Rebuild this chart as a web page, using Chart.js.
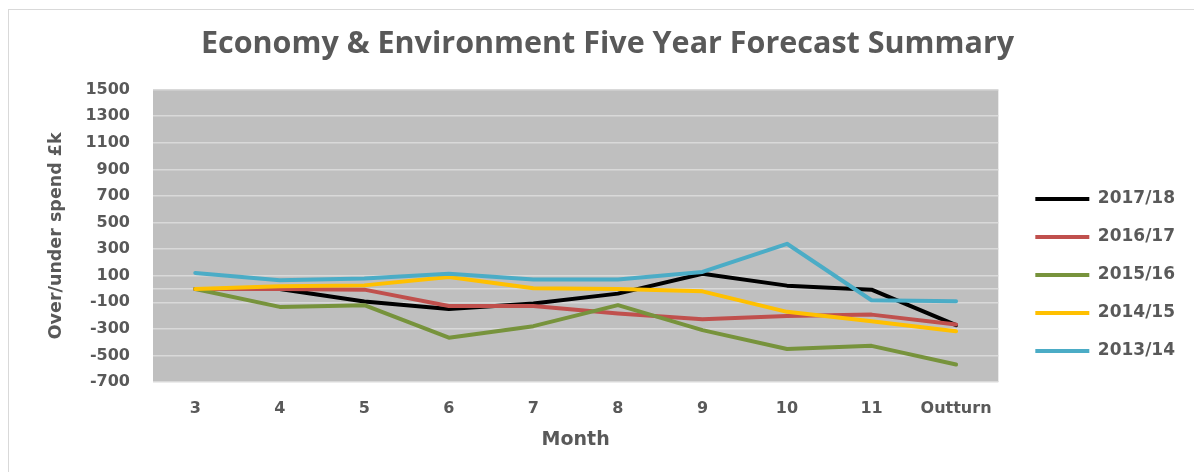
<!DOCTYPE html>
<html lang="en">

<head>
    <meta charset="UTF-8">
    <title>Economy &amp; Environment Five Year Forecast Summary</title>
    <script src="https://cdn.jsdelivr.net/npm/chart.js"></script>
    <style>
        html, body {
            margin: 0;
            padding: 0;
            background: #fff;
            overflow: hidden;
        }

        .frame {
            position: absolute;
            left: 8px;
            top: 9px;
            width: 1200px;
            height: 480px;
            border: 1px solid #d9d9d9;
            box-sizing: border-box;
        }

        .chart-container {
            position: absolute;
            left: 0;
            top: 0;
            width: 1194px;
            height: 472px;
        }
    </style>
</head>

<body>
    <div class="frame"></div>
    <div class="chart-container">
        <canvas id="forecastChart"></canvas>
    </div>

    <script>
        const months = ['3', '4', '5', '6', '7', '8', '9', '10', '11', 'Outturn'];

        // over/under spend per month, £k
        const fy1718 = [0, 0, -95, -150, -110, -35, 115, 25, -5, -272];
        const fy1617 = [0, 0, -5, -128, -128, -185, -228, -203, -193, -268];
        const fy1516 = [0, -135, -122, -367, -280, -122, -310, -452, -428, -568];
        const fy1415 = [0, 20, 27, 90, 5, 0, -18, -172, -243, -318];
        const fy1314 = [120, 65, 78, 115, 72, 72, 128, 340, -85, -92];

        const yMin = -700;
        const yMax = 1500;
        const yStep = 200;

        const textColor = '#595959';
        const fontFamily = 'DejaVu Sans';

        // grey plot background
        const plotBackground = {
            id: 'plotBackground',
            beforeDraw(chart) {
                const { ctx, chartArea } = chart;
                ctx.save();
                ctx.fillStyle = '#bfbfbf';
                ctx.fillRect(chartArea.left, chartArea.top, chartArea.width, chartArea.height);
                ctx.restore();
            }
        };

        // move the legend right and down, next to the lower half of the plot
        const legendOffset = {
            id: 'legendOffset',
            afterLayout(chart) {
                chart.legend.left += 16;
                chart.legend.right += 16;
                chart.legend.top += 39;
                chart.legend.bottom += 39;
            }
        };

        function series(label, data, color, order) {
            return {
                label: label,
                data: data,
                borderColor: color,
                backgroundColor: color,
                borderWidth: 4,
                borderCapStyle: 'round',
                borderJoinStyle: 'round',
                pointRadius: 0,
                pointHoverRadius: 0,
                tension: 0,
                order: order
            };
        }

        const ctx = document.getElementById('forecastChart').getContext('2d');

        new Chart(ctx, {
            type: 'line',
            data: {
                labels: months,
                datasets: [
                    series('2017/18', fy1718, '#000000', 4),
                    series('2016/17', fy1617, '#c0504d', 3),
                    series('2015/16', fy1516, '#77933c', 2),
                    series('2014/15', fy1415, '#ffc000', 1),
                    series('2013/14', fy1314, '#4bacc6', 0)
                ]
            },
            options: {
                responsive: true,
                maintainAspectRatio: false,
                animation: false,
                layout: {
                    padding: { left: 46, right: 25, top: 17, bottom: 17 }
                },
                plugins: {
                    title: {
                        display: true,
                        text: 'Economy & Environment Five Year Forecast Summary',
                        color: textColor,
                        font: { family: 'Open Sans', size: 30.5, weight: 'bold' },
                        padding: { top: 9, bottom: 27 }
                    },
                    legend: {
                        position: 'right',
                        labels: {
                            color: textColor,
                            font: { family: fontFamily, size: 17, weight: 'bold' },
                            usePointStyle: true,
                            pointStyle: 'line',
                            pointStyleWidth: 54,
                            padding: 21,
                            sort: (a, b) => a.datasetIndex - b.datasetIndex
                        }
                    },
                    tooltip: { enabled: false }
                },
                scales: {
                    x: {
                        offset: true,
                        afterFit(scale) {
                            scale.height = 73;
                        },
                        grid: { display: false, drawTicks: false },
                        border: { display: false },
                        ticks: {
                            color: textColor,
                            font: { family: fontFamily, size: 16, weight: 'bold' },
                            padding: 17,
                            maxRotation: 0,
                            autoSkip: false
                        },
                        title: {
                            display: true,
                            text: 'Month',
                            color: textColor,
                            font: { family: fontFamily, size: 19, weight: 'bold' },
                            padding: { top: 8, bottom: 4 }
                        }
                    },
                    y: {
                        min: yMin,
                        max: yMax,
                        afterFit(scale) {
                            scale.width = 107;
                        },
                        afterBuildTicks(scale) {
                            // Excel draws the category axis line at zero
                            scale.ticks.push({ value: 0 });
                            scale.ticks.sort((a, b) => a.value - b.value);
                        },
                        grid: {
                            color: '#d9d9d9',
                            lineWidth: 1.5,
                            drawTicks: false
                        },
                        border: { display: false },
                        ticks: {
                            stepSize: yStep,
                            color: textColor,
                            font: { family: fontFamily, size: 16, weight: 'bold' },
                            padding: 23,
                            callback: function (value) {
                                return value === 0 ? '' : value;
                            }
                        },
                        title: {
                            display: true,
                            text: 'Over/under spend £k',
                            color: textColor,
                            font: { family: fontFamily, size: 17.5, weight: 'bold' },
                            padding: { top: 0, bottom: 0 }
                        }
                    }
                }
            },
            plugins: [plotBackground, legendOffset]
        });
    </script>
</body>

</html>
